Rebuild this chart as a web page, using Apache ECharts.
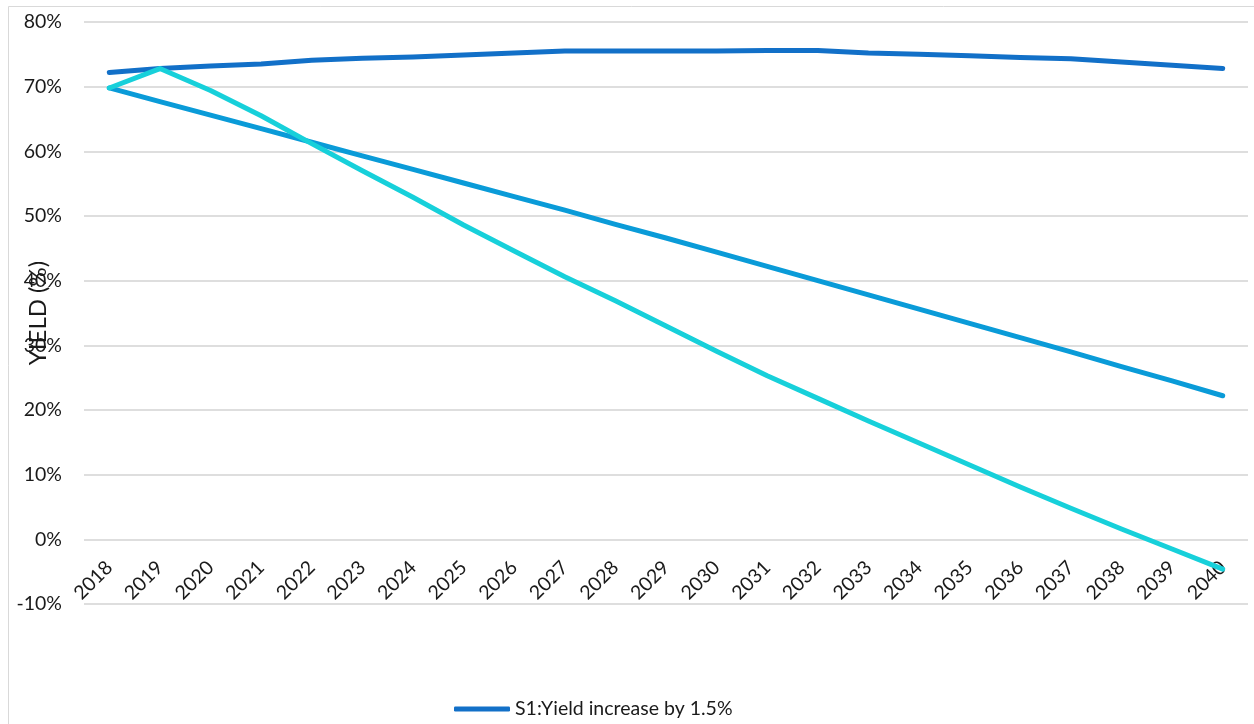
<!DOCTYPE html>
<html>
<head>
<meta charset="utf-8">
<script src="https://cdn.jsdelivr.net/npm/echarts@6/dist/echarts.min.js"></script>
<style>
  html, body { margin: 0; padding: 0; background: #ffffff; }
  #chart { width: 1254px; height: 724px; }
</style>
</head>
<body>
<div id="chart"></div>
<script>
// Projection years
const years = ['2018','2019','2020','2021','2022','2023','2024','2025','2026','2027','2028',
               '2029','2030','2031','2032','2033','2034','2035','2036','2037','2038','2039','2040'];

// Yield (%) per scenario
const s1Yield = [72.2, 72.8, 73.2, 73.5, 74.1, 74.4, 74.6, 74.9, 75.2, 75.5, 75.5, 75.5,
                 75.5, 75.6, 75.6, 75.2, 75.0, 74.8, 74.5, 74.3, 73.8, 73.3, 72.8];
const s2Yield = [69.8, 67.7, 65.6, 63.5, 61.4, 59.3, 57.2, 55.1, 53.0, 50.9, 48.7, 46.6,
                 44.4, 42.2, 40.0, 37.8, 35.6, 33.4, 31.2, 29.0, 26.7, 24.5, 22.2];
const s3Yield = [69.8, 72.8, 69.4, 65.5, 61.2, 57.0, 52.9, 48.6, 44.6, 40.6, 36.9, 33.0,
                 29.1, 25.3, 21.8, 18.3, 14.9, 11.5, 8.1, 4.8, 1.6, -1.5, -4.6];

const seriesNames = ['S1:Yield increase by 1.5%', 'S2', 'S3'];
const seriesColors = ['#1270c8', '#0a9bd8', '#17d0da'];

const Y_MIN = -10, Y_MAX = 80, Y_STEP = 10;
const GRID = { left: 84, right: 6, top: 22, bottom: 120 };
const PLOT_H = 724 - GRID.top - GRID.bottom;
// the category labels sit on the 0% line rather than at the plot bottom
const zeroLift = PLOT_H * (0 - Y_MIN) / (Y_MAX - Y_MIN);

const FONT = 'Lato';
const chart = echarts.init(document.getElementById('chart'), null, { renderer: 'canvas' });

function lineSeries(name, data, color) {
  return {
    name: name,
    type: 'line',
    data: data,
    symbol: 'none',
    smooth: false,
    lineStyle: { width: 5, color: color, cap: 'round', join: 'round' },
    itemStyle: { color: color },
    z: 3
  };
}

chart.setOption({
  animation: false,
  backgroundColor: '#ffffff',
  textStyle: { fontFamily: FONT },
  graphic: [{
    type: 'rect',
    shape: { x: 8.5, y: 6.5, width: 1300, height: 800 },
    style: { fill: 'none', stroke: '#d9d9d9', lineWidth: 1 },
    silent: true,
    z: -10
  }],
  grid: Object.assign({ containLabel: false, outerBoundsMode: 'none' }, GRID),
  legend: {
    data: [{ name: seriesNames[0], icon: 'roundRect' }],
    left: 449,
    top: 694,
    itemWidth: 56,
    itemHeight: 5,
    itemGap: 4,
    itemStyle: { color: seriesColors[0], borderWidth: 0 },
    textStyle: { fontFamily: FONT, fontSize: 19.5, color: '#1a1a1a' }
  },
  xAxis: {
    type: 'category',
    data: years,
    boundaryGap: true,
    offset: -zeroLift,
    axisLine: { show: false, onZero: false },
    axisTick: { show: false },
    axisLabel: {
      rotate: 45,
      margin: 25,
      interval: 0,
      fontFamily: FONT,
      fontSize: 19.5,
      color: '#1a1a1a'
    },
    splitLine: { show: false }
  },
  yAxis: {
    type: 'value',
    min: Y_MIN,
    max: Y_MAX,
    interval: Y_STEP,
    name: 'YIELD (%)',
    nameLocation: 'middle',
    nameGap: 34,
    nameMoveOverlap: false,
    nameTextStyle: { fontFamily: FONT, fontSize: 24, color: '#1a1a1a' },
    axisLine: { show: false },
    axisTick: { show: false },
    axisLabel: {
      formatter: '{value}%',
      margin: 22,
      fontFamily: FONT,
      fontSize: 19.5,
      color: '#1a1a1a'
    },
    splitLine: { show: true, lineStyle: { color: '#dedede', width: 2 } }
  },
  series: [
    lineSeries(seriesNames[0], s1Yield, seriesColors[0]),
    lineSeries(seriesNames[1], s2Yield, seriesColors[1]),
    lineSeries(seriesNames[2], s3Yield, seriesColors[2])
  ]
});
</script>
</body>
</html>
